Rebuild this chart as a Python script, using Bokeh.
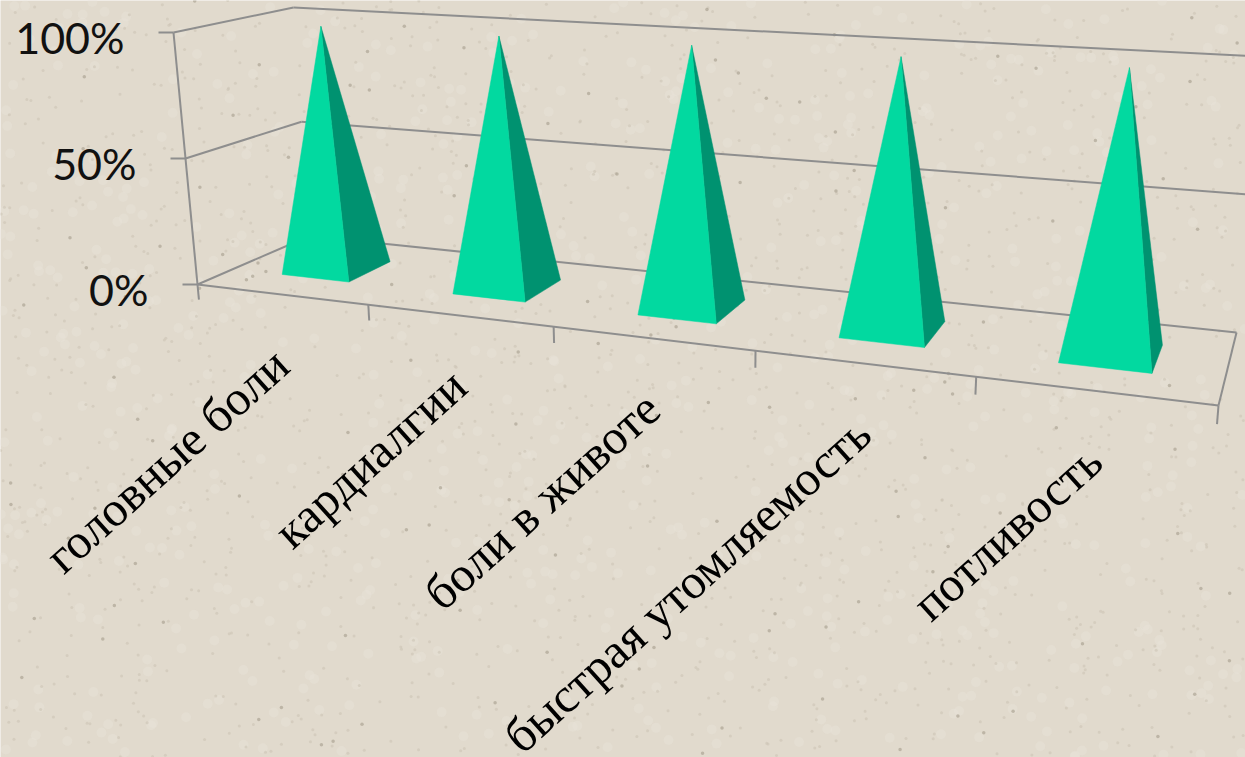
import math
from bokeh.plotting import figure
from bokeh.core.properties import value
from bokeh.embed import file_html
from bokeh.resources import INLINE

categories = ["головные боли", "кардиалгии", "боли в животе", "быстрая утомляемость", "потливость"]
values = [99, 99, 99.5, 99.5, 100]
axis_ticks = [0, 50, 100]
axis_labels = ["0%", "50%", "100%"]

BG = "#E1DACD"
GRID = "#8E8E8E"
FRONT = "#02D9A0"
SIDE = "#009270"

# projection of the 3D box on the picture (corners: front-left, front-right, back-right, back-left)
FLOOR = [(197, 284), (1218, 405), (1236, 332), (309, 235.5)]
TOP = [(173, 32), (1243, 94), (1258, 56), (293, 7)]


def homography(q):
    (x0, y0), (x1, y1), (x2, y2), (x3, y3) = q
    dx1, dx2, sx = x1 - x2, x3 - x2, x0 - x1 + x2 - x3
    dy1, dy2, sy = y1 - y2, y3 - y2, y0 - y1 + y2 - y3
    den = dx1 * dy2 - dx2 * dy1
    g = (sx * dy2 - dx2 * sy) / den
    h = (dx1 * sy - sx * dy1) / den
    def f(u, d):
        w = 1 + g * u + h * d
        return ((x0 + (x1 * (1 + g) - x0) * u + (x3 * (1 + h) - x0) * d) / w,
                (y0 + (y1 * (1 + g) - y0) * u + (y3 * (1 + h) - y0) * d) / w)
    return f


floor_map, top_map = homography(FLOOR), homography(TOP)


def project(u, d, v):
    a, b = floor_map(u, d), top_map(u, d)
    t = v / 100
    return a[0] + (b[0] - a[0]) * t, a[1] + (b[1] - a[1]) * t


def seg(p0, p1):
    return [p0[0], p1[0]], [p0[1], p1[1]]


p = figure(width=1245, height=757, x_range=(0, 1245), y_range=(757, 0),
           output_backend="svg", toolbar_location=None, min_border=0)
p.axis.visible = False
p.grid.visible = False
p.outline_line_color = None
p.background_fill_color = BG
p.border_fill_color = BG

# paper texture only (no data): specks spread by a quadratic irrational sequence
A1, A2 = 0.7548776662, 0.5698402910
def specks(count, seed):
    return ([((seed + k * k * A1) % 1) * 1245 for k in range(1, count + 1)],
            [((seed * 0.37 + k * A2) % 1) * 757 for k in range(1, count + 1)])

x, y = specks(800, 0.11)
p.scatter(x, y, size=10, color="#E9E4DA", alpha=0.4, line_color=None)
x, y = specks(1500, 0.43)
p.scatter(x, y, size=3, color="#CDC5B5", alpha=0.6, line_color=None)
x, y = specks(140, 0.77)
p.scatter(x, y, size=3.5, color="#A59C8C", alpha=0.6, line_color=None)

# walls and floor
for v in axis_ticks:
    xs, ys = seg(project(0, 0, v), project(0, 1, v))
    p.line(xs, ys, line_color=GRID, line_width=2)
    xs, ys = seg(project(0, 1, v), project(1.05 if v else 1, 1, v))
    p.line(xs, ys, line_color=GRID, line_width=2)
    q = project(0, 0, v)
    p.line([q[0] - 15, q[0]], [q[1], q[1]], line_color=GRID, line_width=2)

for a, b in [((0, 0, 0), (0, 0, 100)), ((0, 0, 0), (1, 0, 0)), ((1, 0, 0), (1, 1, 0))]:
    xs, ys = seg(project(*a), project(*b))
    p.line(xs, ys, line_color=GRID, line_width=2)

n = len(categories)
for i in range(n + 1):
    xs, ys = seg(project(i / n, 0, 0), project(i / n, 0, -6))
    p.line(xs, ys, line_color=GRID, line_width=2)

# pyramids
front_x, front_y, side_x, side_y = [], [], [], []
for i, val in enumerate(values):
    u0, u1 = (i + 0.3) / n, (i + 0.7) / n
    um = (i + 0.5) / n
    apex = project(um, 0.5, val)
    fl, fr, br = project(u0, 0.3, 0), project(u1, 0.3, 0), project(u1, 0.7, 0)
    front_x.append([fl[0], fr[0], apex[0]])
    front_y.append([fl[1], fr[1], apex[1]])
    side_x.append([fr[0], br[0], apex[0]])
    side_y.append([fr[1], br[1], apex[1]])
p.patches(side_x, side_y, fill_color=SIDE, line_color=SIDE, line_width=0.5)
p.patches(front_x, front_y, fill_color=FRONT, line_color=FRONT, line_width=0.5)

# value labels
lab_x = [project(0, 0, v)[0] - 49 for v in axis_ticks]
lab_y = [project(0, 0, v)[1] + 5 for v in axis_ticks]
p.text(lab_x, lab_y, text=axis_labels, text_font=value("Lato"), text_font_size="43px",
       text_color="#111111", text_align="right", text_baseline="middle")

# category labels
cat_x = [project((i + 0.5) / n, 0, 0)[0] + 0 for i in range(n)]
cat_y = [project((i + 0.5) / n, 0, 0)[1] + 63 for i in range(n)]
p.text(cat_x, cat_y, text=categories, text_font=value("Liberation Serif"), text_font_size="49px",
       text_color="#000000", text_align="right", text_baseline="middle", angle=math.radians(42))

open("out.html", "w").write(file_html(p, INLINE))
